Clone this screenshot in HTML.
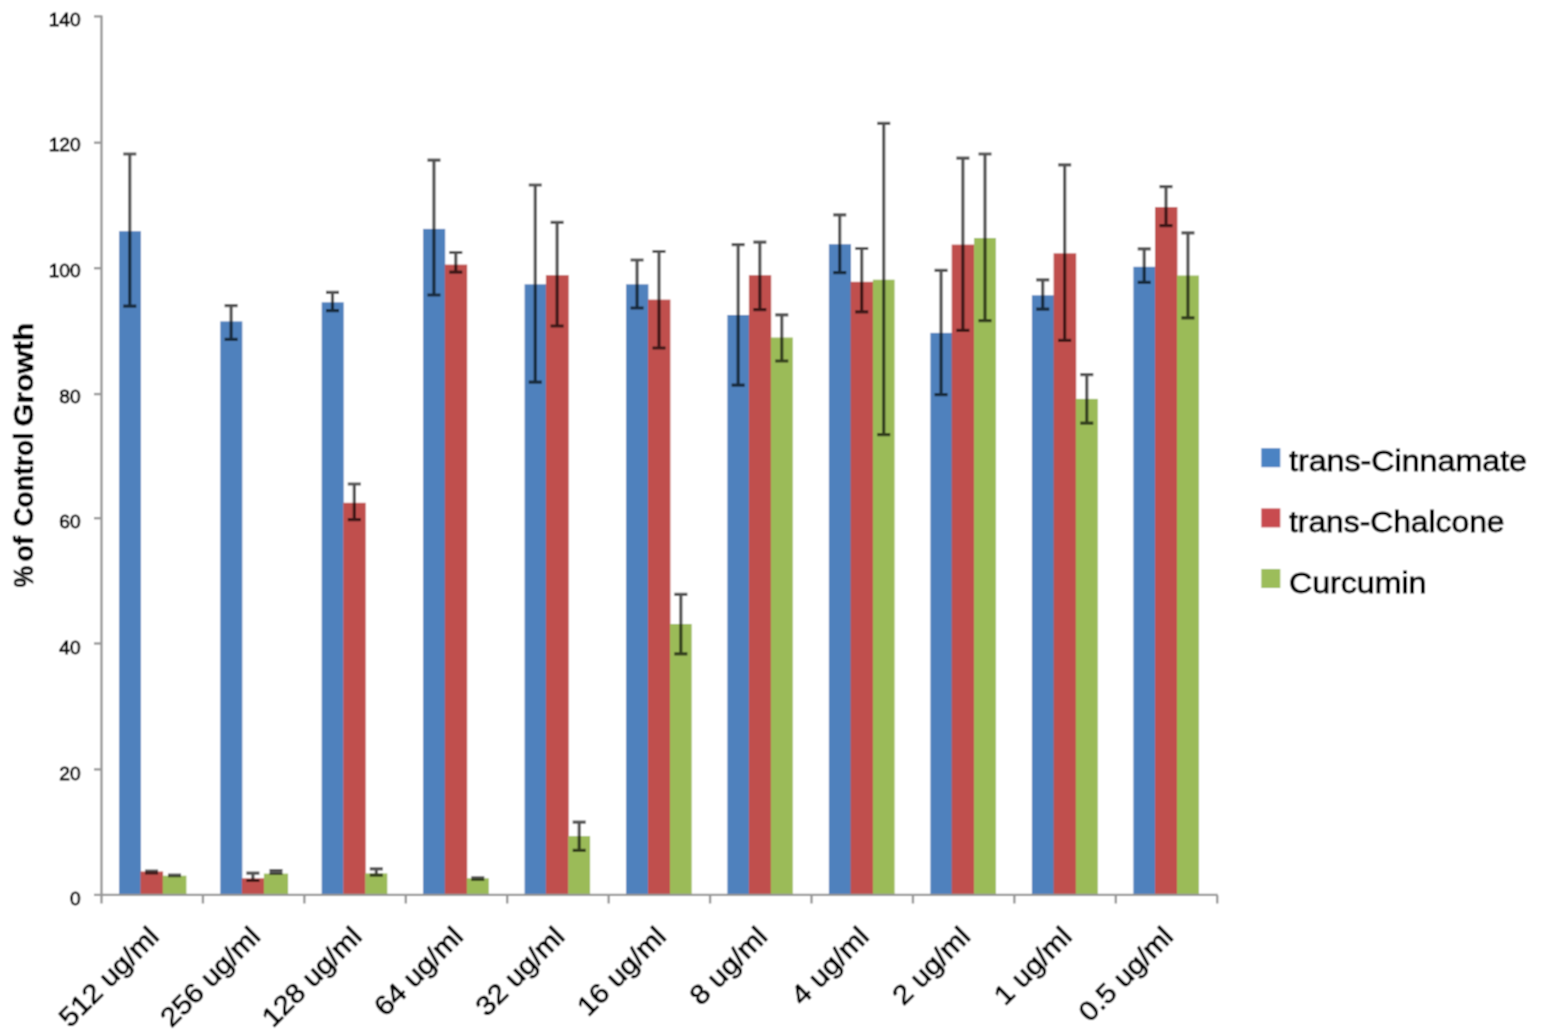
<!DOCTYPE html>
<html lang="en"><head><meta charset="utf-8"><title>Chart</title>
<style>html,body{margin:0;padding:0;background:#fff}body{width:1547px;height:1036px;overflow:hidden}svg{display:block}text{font-family:"Liberation Sans",sans-serif;fill:#000;stroke:#000;stroke-width:0.85px}</style>
</head><body>
<svg width="1547" height="1036" viewBox="0 0 1547 1036">
<defs><filter id="soft" x="0" y="0" width="1547" height="1036" filterUnits="userSpaceOnUse"><feConvolveMatrix order="3" kernelMatrix="1 2 1 2 4 2 1 2 1" divisor="16" edgeMode="duplicate" preserveAlpha="true"/></filter></defs>
<rect width="1547" height="1036" fill="#fff"/>
<g filter="url(#soft)">
<rect width="1547" height="1036" fill="#fff"/>
<g shape-rendering="auto">
<rect x="119.10" y="231.20" width="21.80" height="664.10" fill="#4f81bd"/>
<rect x="140.50" y="871.50" width="22.60" height="23.80" fill="#c0504d"/>
<rect x="162.70" y="875.70" width="23.70" height="19.60" fill="#9bbb59"/>
<rect x="220.30" y="321.40" width="22.00" height="573.90" fill="#4f81bd"/>
<rect x="241.90" y="878.30" width="22.40" height="17.00" fill="#c0504d"/>
<rect x="263.90" y="873.60" width="24.20" height="21.70" fill="#9bbb59"/>
<rect x="321.70" y="302.30" width="22.00" height="593.00" fill="#4f81bd"/>
<rect x="343.30" y="502.80" width="22.40" height="392.50" fill="#c0504d"/>
<rect x="365.30" y="873.40" width="22.00" height="21.90" fill="#9bbb59"/>
<rect x="423.10" y="228.90" width="22.10" height="666.40" fill="#4f81bd"/>
<rect x="444.80" y="264.60" width="22.40" height="630.70" fill="#c0504d"/>
<rect x="466.80" y="878.30" width="22.00" height="17.00" fill="#9bbb59"/>
<rect x="524.60" y="284.30" width="21.70" height="611.00" fill="#4f81bd"/>
<rect x="545.90" y="275.20" width="22.80" height="620.10" fill="#c0504d"/>
<rect x="568.30" y="836.10" width="21.80" height="59.20" fill="#9bbb59"/>
<rect x="626.10" y="284.30" width="22.30" height="611.00" fill="#4f81bd"/>
<rect x="648.00" y="299.60" width="22.40" height="595.70" fill="#c0504d"/>
<rect x="670.00" y="624.00" width="21.70" height="271.30" fill="#9bbb59"/>
<rect x="727.40" y="315.00" width="21.90" height="580.30" fill="#4f81bd"/>
<rect x="748.90" y="275.20" width="22.30" height="620.10" fill="#c0504d"/>
<rect x="770.80" y="337.50" width="22.00" height="557.80" fill="#9bbb59"/>
<rect x="828.90" y="244.20" width="22.10" height="651.10" fill="#4f81bd"/>
<rect x="850.60" y="281.80" width="22.70" height="613.50" fill="#c0504d"/>
<rect x="872.90" y="279.70" width="21.70" height="615.60" fill="#9bbb59"/>
<rect x="930.40" y="332.90" width="21.70" height="562.40" fill="#4f81bd"/>
<rect x="951.70" y="244.60" width="22.80" height="650.70" fill="#c0504d"/>
<rect x="974.10" y="238.00" width="21.80" height="657.30" fill="#9bbb59"/>
<rect x="1031.90" y="295.30" width="22.10" height="600.00" fill="#4f81bd"/>
<rect x="1053.60" y="253.30" width="22.60" height="642.00" fill="#c0504d"/>
<rect x="1075.80" y="398.90" width="22.00" height="496.40" fill="#9bbb59"/>
<rect x="1133.40" y="266.80" width="22.00" height="628.50" fill="#4f81bd"/>
<rect x="1155.00" y="207.10" width="22.40" height="688.20" fill="#c0504d"/>
<rect x="1177.00" y="275.50" width="21.90" height="619.80" fill="#9bbb59"/>
</g>
<g stroke="#989898" stroke-width="2.4" fill="none">
<line x1="101.5" y1="15.4" x2="101.5" y2="896.3"/>
<line x1="94" y1="894.9" x2="1217.73" y2="894.9"/>
<line x1="94" y1="769.40" x2="101.5" y2="769.40"/>
<line x1="94" y1="643.50" x2="101.5" y2="643.50"/>
<line x1="94" y1="518.20" x2="101.5" y2="518.20"/>
<line x1="94" y1="394.10" x2="101.5" y2="394.10"/>
<line x1="94" y1="268.20" x2="101.5" y2="268.20"/>
<line x1="94" y1="142.70" x2="101.5" y2="142.70"/>
<line x1="94" y1="16.40" x2="101.5" y2="16.40"/>
<line x1="101.50" y1="895.3" x2="101.50" y2="903.5"/>
<line x1="202.93" y1="895.3" x2="202.93" y2="903.5"/>
<line x1="304.36" y1="895.3" x2="304.36" y2="903.5"/>
<line x1="405.79" y1="895.3" x2="405.79" y2="903.5"/>
<line x1="507.22" y1="895.3" x2="507.22" y2="903.5"/>
<line x1="608.65" y1="895.3" x2="608.65" y2="903.5"/>
<line x1="710.08" y1="895.3" x2="710.08" y2="903.5"/>
<line x1="811.51" y1="895.3" x2="811.51" y2="903.5"/>
<line x1="912.94" y1="895.3" x2="912.94" y2="903.5"/>
<line x1="1014.37" y1="895.3" x2="1014.37" y2="903.5"/>
<line x1="1115.80" y1="895.3" x2="1115.80" y2="903.5"/>
<line x1="1217.23" y1="895.3" x2="1217.23" y2="903.5"/>
</g>
<g stroke="#000" stroke-opacity="0.68" stroke-width="3.2" fill="none">
<path d="M123.30 154.00H136.30M123.30 306.20H136.30M129.80 154.00V306.20"/>
<path d="M145.10 871.10H158.10M145.10 873.00H158.10M151.60 871.10V873.00"/>
<path d="M168.05 875.00H181.05M168.05 875.70H181.05M174.55 875.00V875.70"/>
<path d="M224.60 305.60H237.60M224.60 339.30H237.60M231.10 305.60V339.30"/>
<path d="M246.40 873.10H259.40M246.40 880.50H259.40M252.90 873.10V880.50"/>
<path d="M269.50 870.70H282.50M269.50 873.50H282.50M276.00 870.70V873.50"/>
<path d="M326.00 292.30H339.00M326.00 310.70H339.00M332.50 292.30V310.70"/>
<path d="M347.80 484.00H360.80M347.80 519.70H360.80M354.30 484.00V519.70"/>
<path d="M369.80 868.80H382.80M369.80 875.20H382.80M376.30 868.80V875.20"/>
<path d="M427.45 160.10H440.45M427.45 295.00H440.45M433.95 160.10V295.00"/>
<path d="M449.30 252.50H462.30M449.30 272.20H462.30M455.80 252.50V272.20"/>
<path d="M471.30 877.80H484.30M471.30 879.30H484.30M477.80 877.80V879.30"/>
<path d="M528.75 185.00H541.75M528.75 382.20H541.75M535.25 185.00V382.20"/>
<path d="M550.60 222.30H563.60M550.60 326.00H563.60M557.10 222.30V326.00"/>
<path d="M572.70 822.20H585.70M572.70 850.40H585.70M579.20 822.20V850.40"/>
<path d="M630.55 260.00H643.55M630.55 308.00H643.55M637.05 260.00V308.00"/>
<path d="M652.50 251.50H665.50M652.50 348.00H665.50M659.00 251.50V348.00"/>
<path d="M674.35 594.40H687.35M674.35 653.90H687.35M680.85 594.40V653.90"/>
<path d="M731.65 244.60H744.65M731.65 385.10H744.65M738.15 244.60V385.10"/>
<path d="M753.35 242.20H766.35M753.35 309.60H766.35M759.85 242.20V309.60"/>
<path d="M775.30 314.80H788.30M775.30 361.00H788.30M781.80 314.80V361.00"/>
<path d="M833.25 214.80H846.25M833.25 272.60H846.25M839.75 214.80V272.60"/>
<path d="M855.25 248.50H868.25M855.25 311.90H868.25M861.75 248.50V311.90"/>
<path d="M877.25 123.40H890.25M877.25 434.60H890.25M883.75 123.40V434.60"/>
<path d="M934.55 270.40H947.55M934.55 394.70H947.55M941.05 270.40V394.70"/>
<path d="M956.40 158.10H969.40M956.40 330.30H969.40M962.90 158.10V330.30"/>
<path d="M978.50 154.00H991.50M978.50 320.60H991.50M985.00 154.00V320.60"/>
<path d="M1036.25 279.80H1049.25M1036.25 309.10H1049.25M1042.75 279.80V309.10"/>
<path d="M1058.20 164.80H1071.20M1058.20 340.40H1071.20M1064.70 164.80V340.40"/>
<path d="M1080.30 374.70H1093.30M1080.30 423.20H1093.30M1086.80 374.70V423.20"/>
<path d="M1137.70 248.90H1150.70M1137.70 282.40H1150.70M1144.20 248.90V282.40"/>
<path d="M1159.50 186.60H1172.50M1159.50 225.70H1172.50M1166.00 186.60V225.70"/>
<path d="M1181.45 232.90H1194.45M1181.45 317.80H1194.45M1187.95 232.90V317.80"/>
</g>
<g font-size="19.2" text-anchor="end" style="stroke-width:0.5px">
<text x="80.7" y="905.20">0</text>
<text x="80.7" y="779.55">20</text>
<text x="80.7" y="653.90">40</text>
<text x="80.7" y="528.25">60</text>
<text x="80.7" y="402.60">80</text>
<text x="80.7" y="276.95">100</text>
<text x="80.7" y="151.30">120</text>
<text x="80.7" y="25.65">140</text>
</g>
<text transform="translate(33.4 586.8) rotate(-90)" font-size="27.8" font-weight="bold" style="stroke-width:0.5px"><tspan x="-0.6" textLength="21.6" lengthAdjust="spacingAndGlyphs">%</tspan> <tspan x="25.4" textLength="25.4" lengthAdjust="spacingAndGlyphs">of</tspan> <tspan x="60.3" textLength="94.0" lengthAdjust="spacingAndGlyphs">Control</tspan> <tspan x="160.4" textLength="103.6" lengthAdjust="spacingAndGlyphs">Growth</tspan></text>
<g font-size="27" text-anchor="end">
<text transform="translate(160.40 938.20) rotate(-45)" textLength="127.8" lengthAdjust="spacingAndGlyphs">512 ug/ml</text>
<text transform="translate(261.83 938.20) rotate(-45)" textLength="127.8" lengthAdjust="spacingAndGlyphs">256 ug/ml</text>
<text transform="translate(363.26 938.20) rotate(-45)" textLength="127.8" lengthAdjust="spacingAndGlyphs">128 ug/ml</text>
<text transform="translate(464.69 938.20) rotate(-45)" textLength="112.2" lengthAdjust="spacingAndGlyphs">64 ug/ml</text>
<text transform="translate(566.12 938.20) rotate(-45)" textLength="112.2" lengthAdjust="spacingAndGlyphs">32 ug/ml</text>
<text transform="translate(667.55 938.20) rotate(-45)" textLength="112.2" lengthAdjust="spacingAndGlyphs">16 ug/ml</text>
<text transform="translate(768.98 938.20) rotate(-45)" textLength="96.6" lengthAdjust="spacingAndGlyphs">8 ug/ml</text>
<text transform="translate(870.41 938.20) rotate(-45)" textLength="96.6" lengthAdjust="spacingAndGlyphs">4 ug/ml</text>
<text transform="translate(971.84 938.20) rotate(-45)" textLength="96.6" lengthAdjust="spacingAndGlyphs">2 ug/ml</text>
<text transform="translate(1073.27 938.20) rotate(-45)" textLength="96.6" lengthAdjust="spacingAndGlyphs">1 ug/ml</text>
<text transform="translate(1174.70 938.20) rotate(-45)" textLength="120.0" lengthAdjust="spacingAndGlyphs">0.5 ug/ml</text>
</g>
<rect x="1261.3" y="448.2" width="19" height="19" fill="#4b83c3"/>
<text x="1289" y="471.2" font-size="30" textLength="238.0" lengthAdjust="spacingAndGlyphs">trans-Cinnamate</text>
<rect x="1261.3" y="508.4" width="19" height="19" fill="#c84b50"/>
<text x="1289" y="531.9" font-size="30" textLength="215.5" lengthAdjust="spacingAndGlyphs">trans-Chalcone</text>
<rect x="1261.3" y="569.0" width="19" height="19" fill="#9cbd5a"/>
<text x="1289" y="592.5" font-size="30" textLength="137.5" lengthAdjust="spacingAndGlyphs">Curcumin</text>
</g>
</svg>
</body></html>
